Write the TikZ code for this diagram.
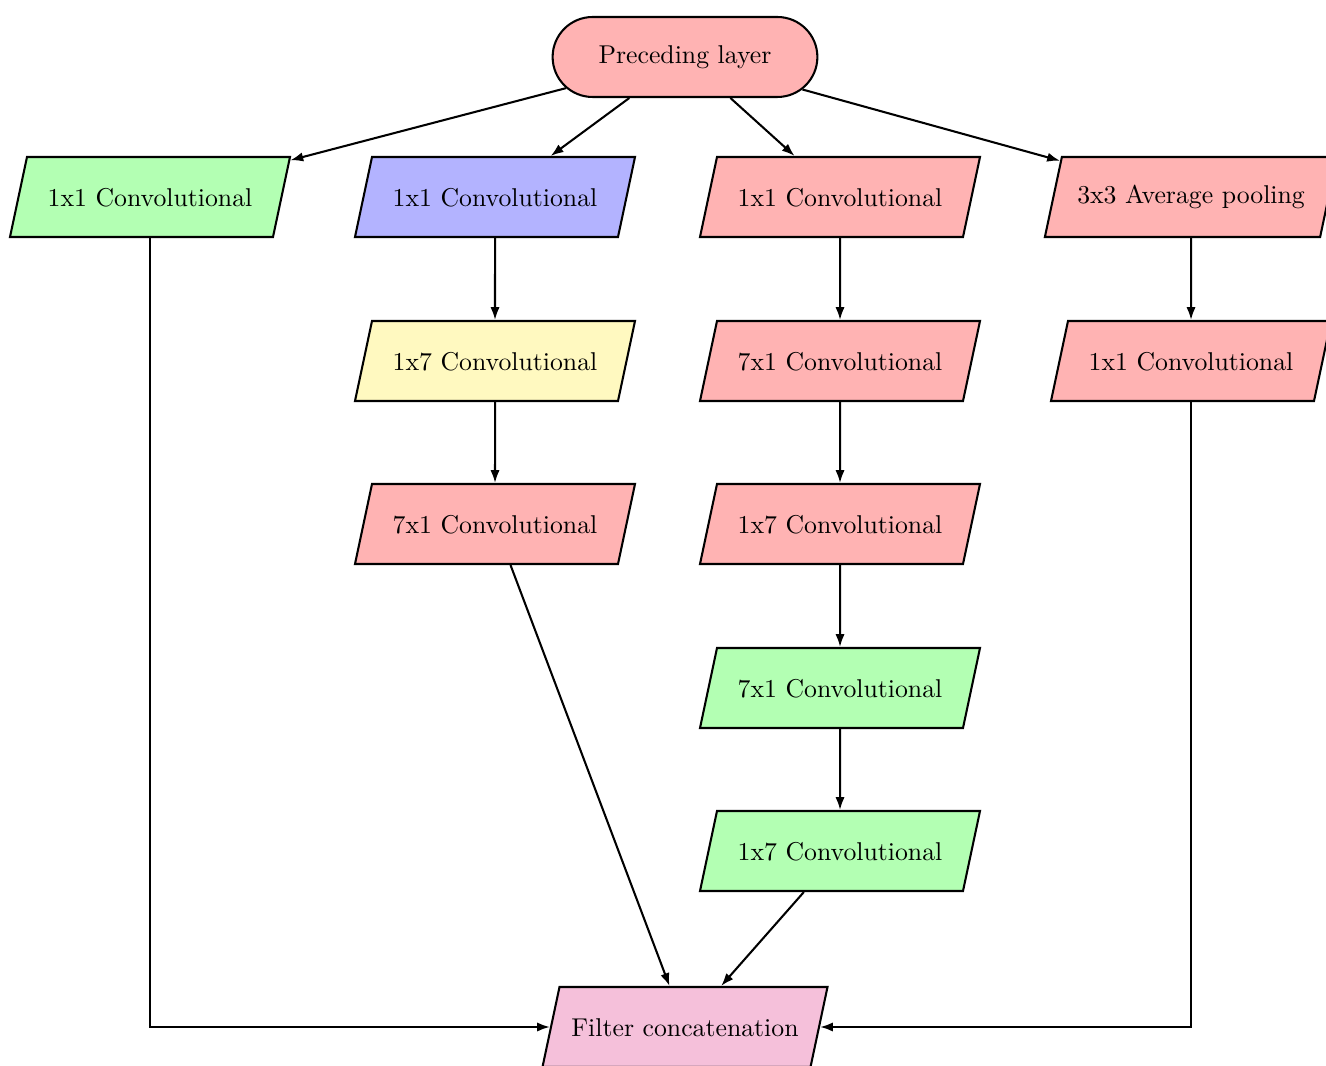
\documentclass[tikz,border=0pt]{standalone}
\usetikzlibrary{shapes.geometric,shapes.misc,arrows.meta}
\definecolor{convred}{RGB}{255,179,179}
\definecolor{convgreen}{RGB}{179,255,179}
\definecolor{convblue}{RGB}{179,179,255}
\definecolor{convyellow}{RGB}{255,249,192}
\definecolor{concatpink}{RGB}{245,192,218}
\begin{document}
\begin{tikzpicture}[x=0.3884pt,y=-0.3884pt,
  layer/.style={draw,thick,trapezium,trapezium left angle=78,trapezium right angle=102,
    trapezium stretches body,text height=7pt,text depth=0pt,inner ysep=12.03pt,
    minimum width=108.75pt},
  startbox/.style={draw,thick,rounded rectangle,fill=convred,
    minimum width=109.5pt,minimum height=31.07pt},
  flow/.style={-{Latex[length=5pt,width=3.6pt]},thick}]
  \clip (0,0) rectangle (1326,1066);

  \node[startbox] (pre) at (685,57) {Preceding layer};

  % branch 1
  \node[layer,fill=convgreen] (b1a) at (150,197) {1x1 Convolutional};
  % branch 2
  \node[layer,fill=convblue] (b2a) at (495,197) {1x1 Convolutional};
  \node[layer,fill=convyellow] (b2b) at (495,361) {1x7 Convolutional};
  \node[layer,fill=convred] (b2c) at (495,524) {7x1 Convolutional};
  % branch 3
  \node[layer,fill=convred] (b3a) at (840,197) {1x1 Convolutional};
  \node[layer,fill=convred] (b3b) at (840,361) {7x1 Convolutional};
  \node[layer,fill=convred] (b3c) at (840,524) {1x7 Convolutional};
  \node[layer,fill=convgreen] (b3d) at (840,688) {7x1 Convolutional};
  \node[layer,fill=convgreen] (b3e) at (840,851) {1x7 Convolutional};
  % branch 4
  \node[layer,fill=convred,text depth=2pt,inner ysep=11.03pt,minimum width=113.5pt]
    (b4a) at (1191,197) {3x3 Average pooling};
  \node[layer,fill=convred] (b4b) at (1191,361) {1x1 Convolutional};

  \node[layer,fill=concatpink,minimum width=110.7pt] (cat) at (685,1027) {Filter concatenation};

  \draw[flow] (pre) -- (b1a);
  \draw[flow] (pre) -- (b2a);
  \draw[flow] (pre) -- (b3a);
  \draw[flow] (pre) -- (b4a);

  \draw[flow] (b2a) -- (b2b);
  \draw[flow] (b2b) -- (b2c);
  \draw[flow] (b3a) -- (b3b);
  \draw[flow] (b3b) -- (b3c);
  \draw[flow] (b3c) -- (b3d);
  \draw[flow] (b3d) -- (b3e);
  \draw[flow] (b4a) -- (b4b);

  \draw[flow] (b1a) |- (cat);
  \draw[flow] (b2c) -- (cat);
  \draw[flow] (b3e) -- (cat);
  \draw[flow] (b4b) |- (cat);
\end{tikzpicture}
\end{document}
